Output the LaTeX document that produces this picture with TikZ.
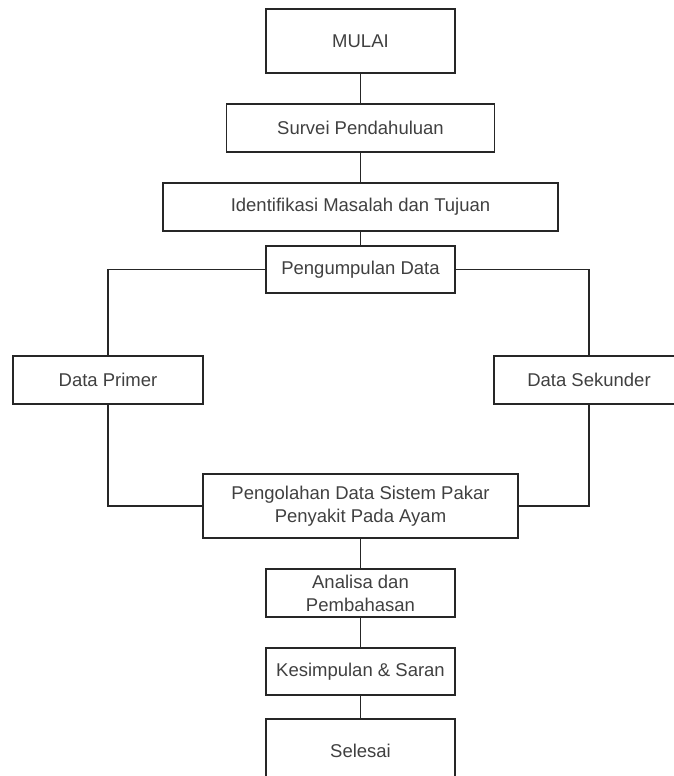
\documentclass[tikz,border=0pt]{standalone}
\usepackage{fontspec}
\setmainfont{Liberation Sans}
\usepackage{tikz}
\usetikzlibrary{calc}
\tikzstyle{proses} = [rectangle, draw=black!85, line width=1.2pt, inner sep=0pt, align=center, text=black!75, minimum width=189pt, minimum height=48pt, font=\fontsize{18.5}{23}\selectfont]
\tikzstyle{garis} = [line width=1.2pt, draw=black!85]

\begin{document}
\begin{tikzpicture}[node distance=80pt]
      \useasboundingbox (-360.5pt,41pt) rectangle (312.5pt,-735pt);
      \node (mulai)[proses, minimum height=64pt]{MULAI};
      \node (survei)[proses, below of=mulai, yshift=-7pt, minimum width=268pt]{Survei Pendahuluan};
      \node (identifikasi)[proses, below of=survei, yshift=1pt, minimum width=395pt]{Identifikasi Masalah dan Tujuan};
      \node (pengumpulan)[proses, below of=identifikasi, yshift=17.5pt, minimum height=47pt]{Pengumpulan Data};
      \node (primer)[proses, below of=pengumpulan, xshift=-252.5pt, yshift=-30.5pt, minimum width=190pt]{Data Primer};
      \node (sekunder)[proses, below of=pengumpulan, xshift=228.5pt, yshift=-30.5pt, minimum width=190pt]{Data Sekunder};
      \node (pengolahan)[proses, below of=pengumpulan, yshift=-156.5pt, minimum width=315pt, minimum height=64pt]{Pengolahan Data Sistem Pakar\\Penyakit Pada Ayam};
      \node (analisa)[proses, below of=pengolahan, yshift=-7pt]{Analisa dan\\Pembahasan};
      \node (kesimpulan)[proses, below of=analisa, yshift=1.5pt, minimum height=47pt]{Kesimpulan \& Saran};
      \node (selesai)[proses, below of=kesimpulan, yshift=0.5pt, minimum height=64pt]{Selesai};
      \draw[garis] (mulai)--(survei);
      \draw[garis] (survei)--(identifikasi);
      \draw[garis] (identifikasi)--(pengumpulan);
      \draw[garis] (pengumpulan.west) -| (primer.north);
      \draw[garis] (pengumpulan.east) -| (sekunder.north);
      \draw[garis] (primer.south) |- (pengolahan.west);
      \draw[garis] (sekunder.south) |- (pengolahan.east);
      \draw[garis] (pengolahan)--(analisa);
      \draw[garis] (analisa)--(kesimpulan);
      \draw[garis] (kesimpulan)--(selesai);
    \end{tikzpicture}
\end{document}
